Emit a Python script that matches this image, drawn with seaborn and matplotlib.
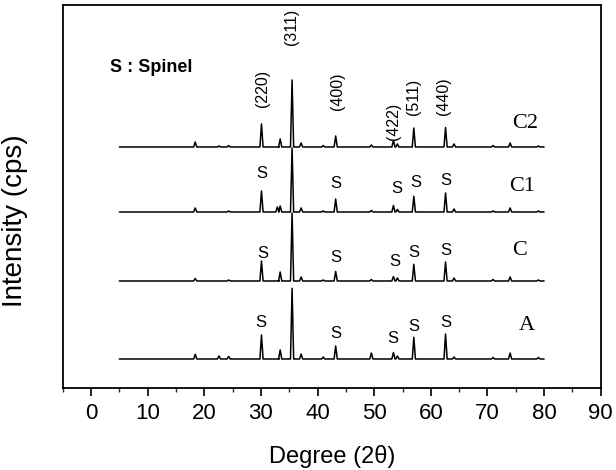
import matplotlib
matplotlib.use("Agg")
import matplotlib.pyplot as plt
import pandas as pd
import seaborn as sns
from matplotlib.ticker import MultipleLocator

# Samples, stacked from bottom to top, with their vertical offsets (arb. units)
samples = ["A", "C", "C1", "C2"]
baselines = [29, 107, 176, 241]
scan_start, scan_end = 5.0, 80.0

# Reflection positions (2-theta, degrees) and their net heights for each sample
peak_pos = [18.4, 22.6, 24.3, 30.1, 32.9, 33.4, 35.5, 37.1, 41.0, 43.2,
            49.5, 53.4, 54.1, 57.0, 62.6, 64.1, 71.0, 74.0, 79.0]
height_A = [4.7, 3.0, 2.5, 24.0, 0.0, 9.0, 70.7, 5.0, 2.0, 13.0,
            6.0, 6.5, 3.0, 21.7, 25.0, 2.0, 1.5, 6.0, 1.5]
height_C = [2.5, 0.0, 1.0, 20.0, 0.0, 9.0, 68.0, 4.0, 1.0, 9.5,
            1.5, 4.5, 3.0, 16.7, 19.0, 3.0, 1.5, 4.0, 1.0]
height_C1 = [4.0, 0.0, 1.0, 21.0, 5.0, 6.0, 64.0, 4.0, 1.0, 13.0,
             1.5, 6.5, 2.5, 15.7, 19.0, 3.0, 1.0, 4.0, 1.0]
height_C2 = [5.0, 1.0, 1.5, 23.0, 0.0, 8.0, 67.0, 4.0, 1.5, 11.0,
             2.0, 6.5, 3.0, 19.0, 19.5, 3.0, 1.5, 4.0, 1.0]
heights = [height_A, height_C, height_C1, height_C2]
half_width = 0.28

# Spinel reflection indices and where they are written (above the top pattern)
hkl_labels = ["(220)", "(311)", "(400)", "(422)", "(511)", "(440)"]
hkl_x = [30.3, 35.4, 43.5, 53.4, 56.9, 62.3]
hkl_y = [281, 343, 278, 248, 273, 273]

# "S" markers over the spinel reflections of A, C and C1
s_x = {"A": [30.0, 43.2, 53.3, 57.0, 62.7],
       "C": [30.4, 43.3, 53.7, 57.0, 62.6],
       "C1": [30.1, 43.2, 54.0, 57.4, 62.6]}
s_y = {"A": [65, 54, 49, 61, 65],
       "C": [134, 130, 126, 135, 137],
       "C1": [214, 204, 199, 205, 207]}

# Sample name positions
name_x = [77.0, 75.7, 76.2, 76.6]
name_y = [62, 137, 201.5, 264.5]

xticks = [0, 10, 20, 30, 40, 50, 60, 70, 80, 90]

# Assemble each pattern as a polyline: baseline -> peak top -> baseline
rows = []
for name, base, hs in zip(samples, baselines, heights):
    rows.append((name, scan_start, base))
    for p, h in zip(peak_pos, hs):
        rows.append((name, p - half_width, base))
        rows.append((name, p, base + h))
        rows.append((name, p + half_width, base))
    rows.append((name, scan_end, base))
df = pd.DataFrame(rows, columns=["sample", "two_theta", "intensity"])

sns.set_theme(style="ticks")
plt.rcParams["font.family"] = ["Liberation Sans", "DejaVu Sans"]

fig = plt.figure(figsize=(6.16, 4.70), dpi=100)
ax = fig.add_axes([0.1018, 0.1745, 0.8734, 0.8149])

sns.lineplot(data=df, x="two_theta", y="intensity", units="sample",
             estimator=None, sort=False, color="black", linewidth=1.1,
             legend=False, ax=ax)

ax.set_xlim(-5, 90)
ax.set_ylim(0, 383)
ax.set_xticks(xticks)
ax.xaxis.set_minor_locator(MultipleLocator(5))
ax.set_yticks([])
ax.tick_params(axis="x", which="major", direction="out", length=6, width=1.2,
               labelsize=16, pad=5, colors="black")
ax.tick_params(axis="x", which="minor", direction="out", length=3, width=1.0)
for sp in ax.spines.values():
    sp.set_visible(True)
    sp.set_color("black")
    sp.set_linewidth(1.3)

ax.set_xlabel("Degree (2θ)", fontsize=17, labelpad=15, color="black")
ax.set_ylabel("Intensity (cps)", fontsize=20, color="black")
ax.yaxis.set_label_coords(-0.064, 0.436)

ax.text(3.4, 320, "S : Spinel", fontsize=13, fontweight="bold",
        ha="left", va="center", color="black")

for lab, x, y in zip(hkl_labels, hkl_x, hkl_y):
    ax.text(x, y, lab, rotation=90, fontsize=11.5, ha="center", va="bottom",
            color="black")

for name in ["A", "C", "C1"]:
    for x, y in zip(s_x[name], s_y[name]):
        ax.text(x, y, "S", fontsize=12, ha="center", va="center", color="black")

for name, x, y in zip(samples, name_x, name_y):
    ax.text(x, y, name, fontsize=16, ha="center", va="center",
            family="Liberation Serif", color="black")

fig.savefig("out.png", dpi=100, facecolor="white")
